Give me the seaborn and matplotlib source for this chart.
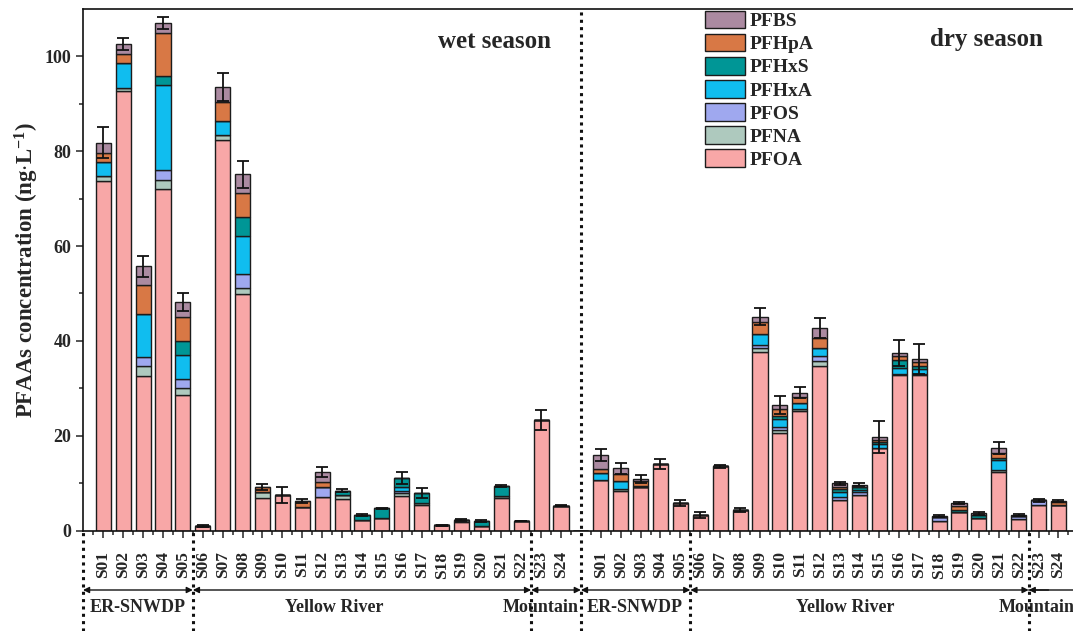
import numpy as np
import pandas as pd
import matplotlib
matplotlib.use("Agg")
import matplotlib.pyplot as plt
from matplotlib.patches import Patch
from matplotlib.transforms import blended_transform_factory
import seaborn as sns

# ---------------- data ----------------
sites = ["S01", "S02", "S03", "S04", "S05", "S06", "S07", "S08", "S09", "S10",
         "S11", "S12", "S13", "S14", "S15", "S16", "S17", "S18", "S19", "S20",
         "S21", "S22", "S23", "S24"]
compounds = ["PFBS", "PFHpA", "PFHxS", "PFHxA", "PFOS", "PFNA", "PFOA"]
palette = {"PFBS": "#AB8AA1", "PFHpA": "#D87845", "PFHxS": "#009696",
           "PFHxA": "#10BDEF", "PFOS": "#9FA8EF", "PFNA": "#AEC9BE",
           "PFOA": "#F8A7A7"}

wet_PFOA = [73.7, 92.7, 32.5, 72.0, 28.6, 1.0, 82.4, 49.9, 6.9, 7.5, 5.0, 7.1,
            6.7, 2.2, 2.6, 7.3, 5.3, 1.1, 1.8, 0.95, 6.8, 2.0, 23.3, 5.2]
wet_PFNA = [1.1, 0.7, 2.2, 1.9, 1.5, 0, 1.0, 1.2, 1.3, 0, 0, 0,
            0.8, 0, 0, 0.7, 0.6, 0, 0.4, 0, 0.5, 0, 0, 0]
wet_PFOS = [0, 0, 2.0, 2.1, 1.9, 0, 0, 2.9, 0, 0, 0, 2.0,
            0, 0, 0, 0.3, 0, 0, 0, 0, 0, 0, 0, 0]
wet_PFHxA = [2.9, 5.2, 9.0, 17.9, 5.0, 0, 3.0, 8.1, 0, 0, 0, 0,
             0, 0, 0, 0.8, 0, 0, 0, 0, 0, 0, 0, 0]
wet_PFHxS = [0, 0, 0, 2.0, 3.0, 0, 0, 4.0, 0, 0, 0, 0,
             0.9, 1.1, 2.1, 2.0, 2.0, 0, 0, 1.05, 2.1, 0, 0, 0]
wet_PFHpA = [2.0, 2.0, 6.0, 9.1, 5.0, 0, 4.0, 5.0, 1.0, 0, 1.2, 1.1,
             0, 0, 0, 0, 0, 0, 0, 0, 0, 0, 0, 0]
wet_PFBS = [2.1, 2.0, 4.0, 2.0, 3.1, 0, 3.1, 4.0, 0, 0, 0, 2.1,
            0, 0, 0, 0, 0, 0, 0, 0, 0, 0, 0, 0]
wet_err = [3.3, 1.2, 2.2, 1.3, 1.9, 0.2, 3.0, 2.8, 0.7, 1.6, 0.5, 1.1,
           0.3, 0.2, 0.1, 1.3, 1.1, 0.1, 0.2, 0.2, 0.3, 0.1, 2.2, 0.1]

dry_PFOA = [10.6, 8.4, 9.1, 14.0, 5.8, 3.3, 13.5, 4.3, 37.6, 20.6, 25.2, 34.8,
            6.4, 7.4, 17.5, 32.7, 32.8, 1.9, 3.8, 2.7, 12.3, 2.4, 5.3, 5.3]
dry_PFNA = [0, 0.4, 0, 0, 0, 0, 0, 0, 0.8, 0.6, 0.4, 0.9,
            0, 0, 0, 0.4, 0.3, 0, 0, 0, 0.5, 0, 0, 0]
dry_PFOS = [0, 0, 0, 0, 0, 0, 0, 0, 0.7, 0.6, 0, 1.2,
            0.7, 0.7, 0, 0, 0, 0.9, 0, 0, 0, 0.6, 1.1, 0]
dry_PFHxA = [1.6, 1.7, 0, 0, 0, 0, 0, 0, 2.4, 1.7, 1.2, 1.7,
             1.0, 0.4, 0.7, 1.2, 0.9, 0, 0, 0, 2.1, 0, 0, 0]
dry_PFHxS = [0, 0, 0.3, 0, 0, 0, 0, 0, 0, 0.7, 0, 0,
             0.7, 0.6, 0.4, 1.7, 0.6, 0, 0.5, 0.5, 0.3, 0, 0, 0]
dry_PFHpA = [0.8, 1.4, 1.0, 0, 0, 0, 0, 0, 2.4, 1.4, 1.3, 2.0,
             0.3, 0, 0.5, 0.8, 0.9, 0, 0.9, 0, 1.2, 0, 0, 0.7]
dry_PFBS = [2.9, 1.2, 0.5, 0, 0, 0, 0, 0, 1.2, 0.9, 1.0, 2.1,
            0.9, 0.6, 0.6, 0.6, 0.7, 0.3, 0.6, 0.4, 1.0, 0.3, 0, 0.3]
dry_err = [1.2, 1.1, 0.8, 1.1, 0.6, 0.7, 0.3, 0.5, 1.8, 1.9, 1.2, 2.2,
           0.3, 0.3, 3.3, 2.8, 3.1, 0.2, 0.3, 0.3, 1.3, 0.2, 0.3, 0.2]

wet = {"PFOA": wet_PFOA, "PFNA": wet_PFNA, "PFOS": wet_PFOS, "PFHxA": wet_PFHxA,
       "PFHxS": wet_PFHxS, "PFHpA": wet_PFHpA, "PFBS": wet_PFBS}
dry = {"PFOA": dry_PFOA, "PFNA": dry_PFNA, "PFOS": dry_PFOS, "PFHxA": dry_PFHxA,
       "PFHxS": dry_PFHxS, "PFHpA": dry_PFHpA, "PFBS": dry_PFBS}

groups = ["ER-SNWDP", "Yellow River", "Mountain"]
season_labels = ["wet season", "dry season"]

# ---------------- long table ----------------
n = len(sites)
offset = {"wet": 0, "dry": n + 1}
rows = []
for season, table in (("wet", wet), ("dry", dry)):
    for i, s in enumerate(sites):
        for c in compounds:
            rows.append({"pos": offset[season] + i, "site": s, "season": season,
                         "compound": c, "value": table[c][i]})
df = pd.DataFrame(rows)
totals = df.groupby("pos")["value"].sum()
err = pd.Series(wet_err + dry_err, index=[i for i in range(n)] + [n + 1 + i for i in range(n)])

# ---------------- style ----------------
sns.set_style("ticks")
plt.rcParams["font.family"] = ["Liberation Serif", "DejaVu Serif"]
plt.rcParams["font.weight"] = "bold"
plt.rcParams["axes.labelweight"] = "bold"
plt.rcParams["mathtext.fontset"] = "custom"
plt.rcParams["mathtext.rm"] = "Liberation Serif:bold"
plt.rcParams["mathtext.bf"] = "Liberation Serif:bold"
plt.rcParams["mathtext.it"] = "Liberation Serif:bold"

W, H = 1073, 631
fig = plt.figure(figsize=(W / 100, H / 100), dpi=100)
ax_left_px, ax_top_px, y0_px = 83, 9, 530.5
step_px = 19.9
xmin, xmax = -1.02, 49.0
ax_w_px = (xmax - xmin) * step_px
ax = fig.add_axes([ax_left_px / W, 1 - y0_px / H, ax_w_px / W, (y0_px - ax_top_px) / H])

sns.histplot(data=df, x="pos", weights="value", hue="compound", hue_order=compounds,
             palette=palette, multiple="stack", discrete=True, shrink=0.76,
             edgecolor="#1c1c1c", linewidth=1.0, alpha=1, legend=False, ax=ax)

ax.errorbar(totals.index, totals.values, yerr=err.reindex(totals.index).values,
            fmt="none", ecolor="#111111", elinewidth=1.3, capsize=4, capthick=1.3,
            zorder=5)

ax.set_xlim(xmin, xmax)
ax.set_ylim(0, 110)

# ticks
positions = [offset["wet"] + i for i in range(n)] + [offset["dry"] + i for i in range(n)]
ax.set_xticks(positions)
ax.set_xticklabels(sites + sites, rotation=90, fontsize=12.5, fontweight="bold")
ax.set_xticks(np.arange(-0.5, 49, 1.0), minor=True)
ax.set_yticks([0, 20, 40, 60, 80, 100])
ax.set_yticks([10, 30, 50, 70, 90], minor=True)
ax.tick_params(axis="x", which="major", direction="out", length=5, width=1.1, pad=10)
ax.tick_params(axis="x", which="minor", direction="out", length=3, width=1.1)
ax.tick_params(axis="y", which="major", direction="out", length=5, width=1.1,
               labelsize=13)
ax.tick_params(axis="y", which="minor", direction="out", length=3, width=1.1)
for lab in ax.get_yticklabels():
    lab.set_fontweight("bold")

for sp in ax.spines.values():
    sp.set_linewidth(1.2)
    sp.set_color("#111111")

ax.set_xlabel("")
ax.set_ylabel(r"PFAAs concentration (ng$\cdot$L$^{-1}$)", fontsize=16.5,
              fontweight="bold")
ax.yaxis.set_label_coords(-0.042, 0.5)

# season labels
ax.text(19.68, 103.1, season_labels[0], fontsize=18, fontweight="bold",
        ha="center", va="center")
ax.text(44.4, 103.5, season_labels[1], fontsize=18, fontweight="bold",
        ha="center", va="center")

# dotted separators
tr = blended_transform_factory(ax.transData, fig.transFigure)
ax_bottom_fig = 1 - y0_px / H
ax_top_fig = 1 - ax_top_px / H
dot_style = dict(color="#111111", lw=2.2, linestyle=(0, (1.0, 1.4)), clip_on=False,
                 transform=tr, zorder=6)
for xb in [xmin, 4.5, 21.5, 29.5, 46.5]:
    ax.plot([xb, xb], [0, ax_bottom_fig], **dot_style)
ax.plot([24, 24], [0, ax_top_fig], **dot_style)

# group arrows and labels
y_arrow = 1 - 590 / H
y_text = 1 - 608 / H
spans = [(xmin, 4.5), (4.5, 21.5), (21.5, 24), (24, 29.5), (29.5, 46.5)]
for x0, x1 in spans:
    ax.annotate("", xy=(x1, y_arrow), xytext=(x0, y_arrow), xycoords=tr,
                textcoords=tr, annotation_clip=False,
                arrowprops=dict(arrowstyle="<|-|>", color="#111111", lw=1.0,
                                mutation_scale=9, shrinkA=0, shrinkB=0))
ax.annotate("", xy=(50.5, y_arrow), xytext=(46.5, y_arrow), xycoords=tr,
            textcoords=tr, annotation_clip=False,
            arrowprops=dict(arrowstyle="-", color="#111111", lw=1.0,
                            shrinkA=0, shrinkB=0))
ax.annotate("", xy=(46.5, y_arrow), xytext=(47.5, y_arrow), xycoords=tr,
            textcoords=tr, annotation_clip=False,
            arrowprops=dict(arrowstyle="-|>", color="#111111", lw=1.0,
                            mutation_scale=9, shrinkA=0, shrinkB=0))

label_x = [(1.72, groups[0]), (11.6, groups[1]), (22.0, groups[2]),
           (26.7, groups[0]), (37.3, groups[1]), (46.9, groups[2])]
for xl, t in label_x:
    ax.text(xl, y_text, t, transform=tr, fontsize=13, fontweight="bold",
            ha="center", va="center", clip_on=False)

# legend
handles = [Patch(facecolor=palette[c], edgecolor="#1c1c1c", linewidth=1.0)
           for c in compounds]
leg = fig.legend(handles, compounds, loc="upper left",
                 bbox_to_anchor=(705 / W, 1 - 11 / H), frameon=False,
                 prop={"family": "Liberation Serif", "weight": "bold", "size": 14},
                 handlelength=2.05, handleheight=1.0, handletextpad=0.25,
                 labelspacing=0.19, borderpad=0, borderaxespad=0)

fig.savefig("out.png", dpi=100)
